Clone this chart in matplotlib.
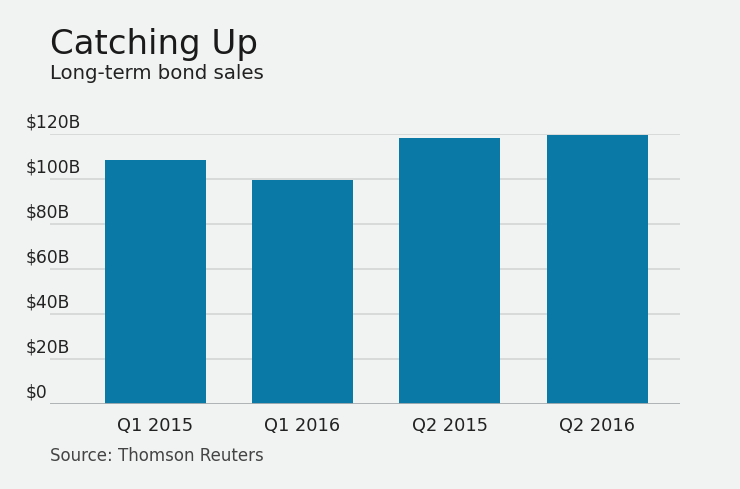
import numpy as np
import matplotlib
matplotlib.use("Agg")
import matplotlib.pyplot as plt

# chart data
quarters = ["Q1 2015", "Q1 2016", "Q2 2015", "Q2 2016"]
sales_bn = [108.3, 99.4, 118.1, 119.3]
y_ticks = [0, 20, 40, 60, 80, 100, 120]
y_labels = ["$0", "$20B", "$40B", "$60B", "$80B", "$100B", "$120B"]

bg = "#f1f2f2"
bar_color = "#0a79a6"

plt.rcParams['font.family'] = ['DejaVu Sans']

fig = plt.figure(figsize=(7.4, 4.892), dpi=100, facecolor=bg)
ax = fig.add_axes([50 / 740, 85 / 489, 630 / 740, 270.3 / 489])
ax.set_facecolor(bg)

x = np.arange(len(quarters))
ax.bar(x, sales_bn, width=0.686, color=bar_color, zorder=3)

ax.set_xlim(-0.713, 3.563)
ax.set_ylim(0, 120)

# grid lines
for t in y_ticks[1:]:
    ax.axhline(t, color="#d6d7d7", linewidth=1.3, zorder=1)
ax.axhline(0, color="#a9aeb0", linewidth=1.3, zorder=4)

for s in ax.spines.values():
    s.set_visible(False)

ax.set_yticks([])
ax.set_xticks(x)
ax.set_xticklabels(quarters, fontsize=12.8, color="#222222")
ax.tick_params(axis="x", length=0, pad=9)

# y labels sit above the grid lines, left aligned
for t, lab in zip(y_ticks, y_labels):
    ax.annotate(lab, xy=(0, t), xycoords=("figure fraction", "data"),
                xytext=(25.5, 2.5), textcoords="offset pixels",
                ha="left", va="bottom", fontsize=12.3, color="#222222")

fig.text(50 / 740, 1 - 54 / 489, "Catching Up", fontsize=24.5, color="#1a1a1a",
         ha="left", va="baseline")
fig.text(50 / 740, 1 - 79 / 489, "Long-term bond sales", fontsize=14.2, color="#222222",
         ha="left", va="baseline")
fig.text(50 / 740, 1 - 461 / 489, "Source: Thomson Reuters", fontsize=12, color="#444444",
         ha="left", va="baseline")

fig.savefig("out.png", dpi=100, facecolor=bg)
